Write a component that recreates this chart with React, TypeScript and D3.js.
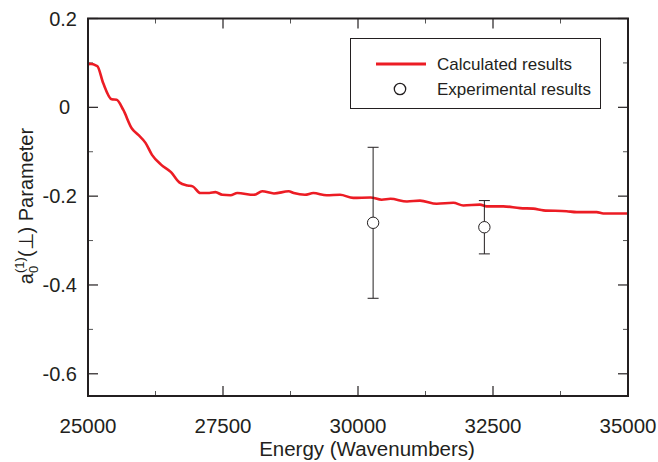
import React from "react";
import * as d3 from "d3";

// calculated curve (wavenumbers, parameter)
const energy = [
  25000, 25024, 25172, 25283, 25438, 25531, 25654, 25809, 25932, 26065, 26185,
  26352, 26537, 26691, 26846, 26938, 27080, 27247, 27361, 27487, 27639, 27765,
  28074, 28226, 28444, 28716, 28811, 29018, 29173, 29420, 29667, 29913, 30231,
  30439, 30602, 30907, 31148, 31457, 31765, 31950, 32259, 32383, 32691, 33000,
  33247, 33432, 33864, 34049, 34420, 34543, 35000,
];
const calculated = [
  0.095, 0.098, 0.093, 0.054, 0.018, 0.017, -0.006, -0.047, -0.062, -0.08,
  -0.107, -0.129, -0.146, -0.169, -0.176, -0.178, -0.193, -0.193, -0.191,
  -0.197, -0.198, -0.193, -0.197, -0.189, -0.194, -0.189, -0.193, -0.197,
  -0.193, -0.198, -0.197, -0.204, -0.203, -0.208, -0.206, -0.212, -0.21,
  -0.217, -0.215, -0.221, -0.219, -0.223, -0.223, -0.227, -0.228, -0.232,
  -0.234, -0.236, -0.236, -0.239, -0.239,
];

// experimental points with error bars
const expEnergy = [30280, 32340];
const expValue = [-0.26, -0.27];
const expUpper = [-0.09, -0.21];
const expLower = [-0.43, -0.33];

const xTicks = [25000, 27500, 30000, 32500, 35000];
const xMinor = [26250, 28750, 31250, 33750];
const yTicks = [0.2, 0, -0.2, -0.4, -0.6];
const yMinor = [0.1, -0.1, -0.3, -0.5];

const W = 658;
const H = 462;
const ink = "#231f20";
const red = "#ec1c24";
const font = "'Liberation Sans', Arial, sans-serif";

export default function App() {
  const x = d3.scaleLinear().domain([25000, 35000]).range([88, 628]);
  const y = d3.scaleLinear().domain([-0.65, 0.2]).range([396, 18.5]);
  const [x0, x1] = x.range();
  const [y0, y1] = y.range();

  const line = d3
    .line<number>()
    .x((_, i) => x(energy[i]))
    .y((d) => y(d))
    .curve(d3.curveMonotoneX);

  // plain hyphen for negatives, like the original figure
  const fmtY = (v: number) =>
    v === 0 ? "0" : d3.format(".1f")(v).replace("\u2212", "-");

  return (
    <svg
      width={W}
      height={H}
      style={{ position: "absolute", left: 0, top: 0, background: "#fff" }}
      fontFamily={font}
    >
      {/* ticks, inward on all four sides */}
      {xTicks.map((t) => (
        <g key={"xt" + t} stroke={ink} strokeWidth={1.2}>
          <line x1={x(t)} x2={x(t)} y1={y0} y2={y0 - 10} />
          <line x1={x(t)} x2={x(t)} y1={y1} y2={y1 + 10} />
        </g>
      ))}
      {xMinor.map((t) => (
        <g key={"xm" + t} stroke="#555" strokeWidth={1}>
          <line x1={x(t)} x2={x(t)} y1={y0} y2={y0 - 5} />
          <line x1={x(t)} x2={x(t)} y1={y1} y2={y1 + 5} />
        </g>
      ))}
      {yTicks.map((t) => (
        <g key={"yt" + t} stroke={ink} strokeWidth={1.2}>
          <line x1={x0} x2={x0 + 10} y1={y(t)} y2={y(t)} />
          <line x1={x1} x2={x1 - 10} y1={y(t)} y2={y(t)} />
        </g>
      ))}
      {yMinor.map((t) => (
        <g key={"ym" + t} stroke="#555" strokeWidth={1}>
          <line x1={x0} x2={x0 + 5} y1={y(t)} y2={y(t)} />
          <line x1={x1} x2={x1 - 5} y1={y(t)} y2={y(t)} />
        </g>
      ))}

      {/* tick labels */}
      {xTicks.map((t) => (
        <text
          key={"xl" + t}
          x={x(t)}
          y={433}
          textAnchor="middle"
          fontSize={20.5}
          fill={ink}
        >
          {t}
        </text>
      ))}
      {yTicks.map((t) => (
        <text
          key={"yl" + t}
          x={t === 0 ? 70 : 77}
          y={y(t) + 7}
          textAnchor="end"
          fontSize={20}
          fill={ink}
        >
          {fmtY(t)}
        </text>
      ))}

      {/* axis titles */}
      <text x={367} y={456} textAnchor="middle" fontSize={20.5} fill={ink}>
        Energy (Wavenumbers)
      </text>
      <text
        transform="translate(33,206) rotate(-90)"
        textAnchor="middle"
        fontSize={20}
        fill={ink}
      >
        <tspan>a</tspan>
        <tspan fontSize={13} dy={5}>0</tspan>
        <tspan fontSize={13} dx={-7.2} dy={-14}>(1)</tspan>
        <tspan dy={9}>(⊥) Parameter</tspan>
      </text>

      {/* calculated curve */}
      <path
        d={line(calculated) ?? ""}
        fill="none"
        stroke={red}
        strokeWidth={2.6}
        strokeLinejoin="round"
      />

      {/* experimental results */}
      {expEnergy.map((e, i) => (
        <g key={"ex" + i} stroke={ink} strokeWidth={1} fill="none">
          <line x1={x(e)} x2={x(e)} y1={y(expUpper[i])} y2={y(expValue[i]) - 5.7} />
          <line x1={x(e)} x2={x(e)} y1={y(expValue[i]) + 5.7} y2={y(expLower[i])} />
          <line x1={x(e) - 5.5} x2={x(e) + 5.5} y1={y(expUpper[i])} y2={y(expUpper[i])} />
          <line x1={x(e) - 5.5} x2={x(e) + 5.5} y1={y(expLower[i])} y2={y(expLower[i])} />
          <circle cx={x(e)} cy={y(expValue[i])} r={5.7} />
        </g>
      ))}

      {/* frame */}
      <rect
        x={x0}
        y={y1}
        width={x1 - x0}
        height={y0 - y1}
        fill="none"
        stroke={ink}
        strokeWidth={2}
      />

      {/* legend */}
      <g>
        <rect x={350.5} y={38.5} width={250} height={70} fill="#fff" stroke={ink} strokeWidth={1} />
        <line x1={376} x2={426} y1={64} y2={64} stroke={red} strokeWidth={2.8} />
        <text x={437} y={70} fontSize={17} fill={ink}>
          Calculated results
        </text>
        <circle cx={400} cy={89} r={5.7} fill="none" stroke={ink} strokeWidth={1.3} />
        <text x={437} y={95} fontSize={17} fill={ink}>
          Experimental results
        </text>
      </g>
    </svg>
  );
}
